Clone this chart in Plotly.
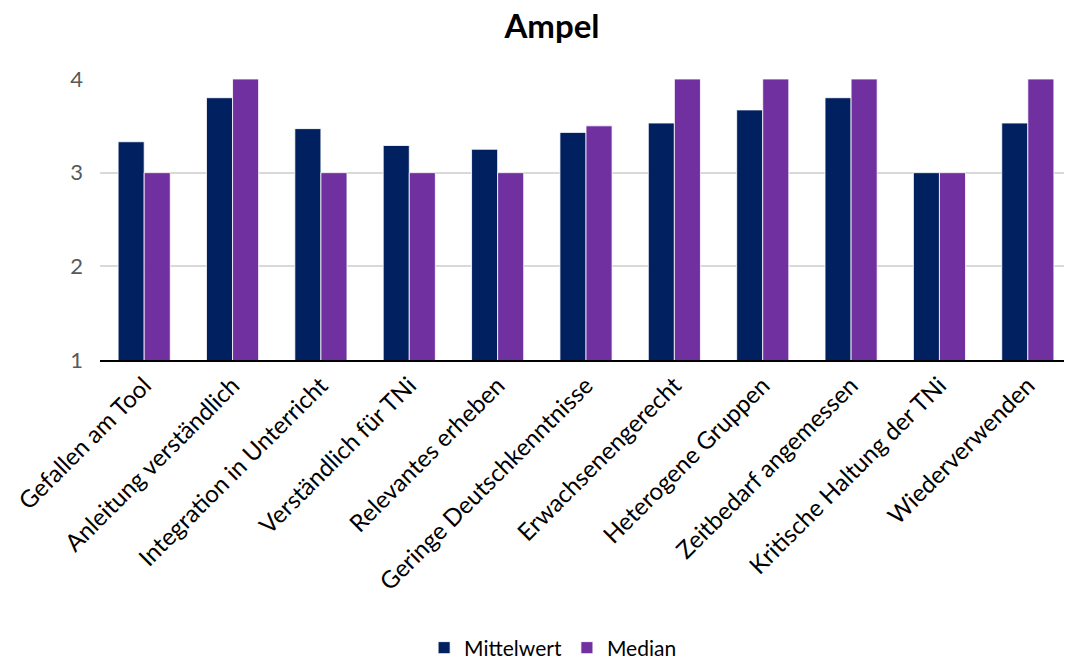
import plotly.graph_objects as go

categories = ["Gefallen am Tool", "Anleitung verständlich", "Integration in Unterricht",
              "Verständlich für TNi", "Relevantes erheben", "Geringe Deutschkenntnisse",
              "Erwachsenengerecht", "Heterogene Gruppen", "Zeitbedarf angemessen",
              "Kritische Haltung der TNi", "Wiederverwenden"]
mittelwert = [3.33, 3.80, 3.47, 3.29, 3.25, 3.43, 3.53, 3.67, 3.80, 3.00, 3.53]
median = [3, 4, 3, 3, 3, 3.5, 4, 4, 4, 3, 4]
y_ticks = [1, 2, 3, 4]

FONT = "Lato"

fig = go.Figure()
fig.add_trace(go.Bar(name="Mittelwert", x=categories, y=mittelwert,
                     marker=dict(color="#002060", line=dict(color="#ffffff", width=0.8))))
fig.add_trace(go.Bar(name="Median", x=categories, y=median,
                     marker=dict(color="#7030A0", line=dict(color="#ffffff", width=0.8))))

# page has an 8px body margin: figure coords = page coords - 8
fig.update_layout(
    width=1064, height=653,
    paper_bgcolor="white", plot_bgcolor="white",
    margin=dict(l=92, r=0, t=71, b=301, autoexpand=False),
    barmode="group", bargap=0.41, bargroupgap=0,
    font=dict(family=FONT, color="#000000"),
    title=dict(text="<b>Ampel</b>", x=(552 - 8) / 1064, xanchor="center",
               y=0.99, yanchor="top",
               font=dict(family=FONT, size=33, color="#000000")),
    legend=dict(orientation="h", x=(504 - 8) / 1064, xanchor="center",
                y=(352 - 640) / 281, yanchor="middle",
                font=dict(family=FONT, size=21, color="#000000"),
                itemwidth=30, traceorder="normal"),
    showlegend=True,
)
fig.update_xaxes(tickangle=-45, tickfont=dict(family=FONT, size=24, color="#000000"),
                 showline=True, linecolor="#000000", linewidth=2, ticks="", showgrid=False,
                 automargin=False)
fig.update_yaxes(range=[1, 4], tickvals=y_ticks, ticktext=[str(v) for v in y_ticks],
                 tickfont=dict(family=FONT, size=22, color="#595959"),
                 ticklabelstandoff=16,
                 showgrid=True, gridcolor="#d9d9d9", gridwidth=2, zeroline=False,
                 showline=False, ticks="", ticklen=0, automargin=False)

fig.write_html("out.html")
